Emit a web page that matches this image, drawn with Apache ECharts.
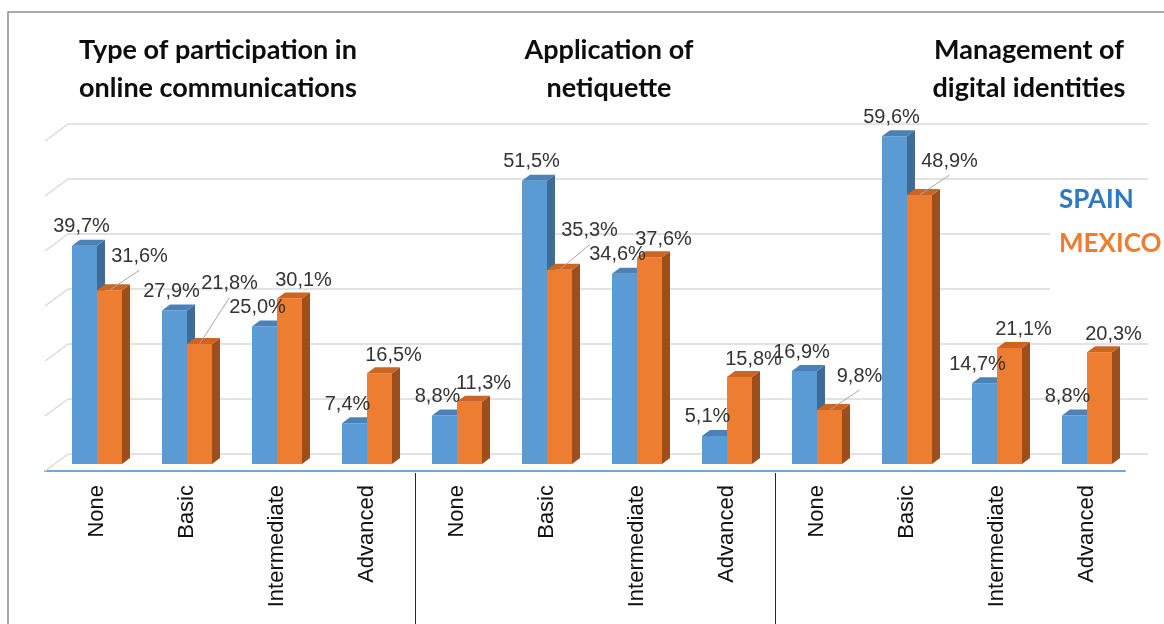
<!DOCTYPE html>
<html>
<head>
<meta charset="utf-8">
<script src="https://cdn.jsdelivr.net/npm/echarts@6/dist/echarts.min.js"></script>
<style>
  html, body { margin: 0; padding: 0; background: #fff; }
  #chart { width: 1164px; height: 624px; }
</style>
</head>
<body>
<div id="chart"></div>
<script>
// 数据
var levels = ['None', 'Basic', 'Intermediate', 'Advanced'];
var groupTitles = [
    'Type of participation in\nonline communications',
    'Application of\nnetiquette',
    'Management of\ndigital identities'
];
var spain  = [39.7, 27.9, 25.0, 7.4, 8.8, 51.5, 34.6, 5.1, 16.9, 59.6, 14.7, 8.8];
var mexico = [31.6, 21.8, 30.1, 16.5, 11.3, 35.3, 37.6, 15.8, 9.8, 48.9, 21.1, 20.3];
var gridTicks = [0, 10, 20, 30, 40, 50, 60];

// 类目：每组重复 levels
var categories = [];
groupTitles.forEach(function () {
    levels.forEach(function (l) { categories.push(l); });
});

// 样式
var BW = 25;          // 柱宽
var DX = 8, DY = 6;   // 柱子立体偏移
var WALL_DX = 23, WALL_DY = 17;
var titleCenters = [213, 604, 1024];
var colors = [
    { front: '#5B9BD5', side: '#3E6C98', top: '#4A82B8' },
    { front: '#ED7D31', side: '#9C4E1C', top: '#CC6522' }
];
var labelFont = '20px "Liberation Sans", Arial, sans-serif';

var fmt = function (v) {
    return v.toFixed(1).replace('.', ',') + '%';
};

// 蓝色柱标签位置
var blueLabelPos = function (api, idx) {
    var top = api.coord([idx, spain[idx]]);
    var dx = spain[idx] < mexico[idx] ? 7 : 3;
    return [top[0] - BW / 2 - dx, top[1] - 19];
};

// 3D 柱子
var barRender = function (side) {
    return function (params, api) {
        var idx = api.value(0), v = api.value(1);
        var base = api.coord([idx, 0]);
        var top = api.coord([idx, v]);
        var cx = base[0];
        var x0 = side === 0 ? cx - BW : cx;
        var x1 = x0 + BW;
        var c = colors[side];
        var ty = top[1], by = base[1];
        var children = [
            { type: 'rect', shape: { x: x0, y: ty, width: BW, height: by - ty }, style: { fill: c.front } },
            { type: 'polygon', shape: { points: [[x1, ty], [x1 + DX, ty - DY], [x1 + DX, by - DY], [x1, by]] }, style: { fill: c.side } },
            { type: 'polygon', shape: { points: [[x0, ty], [x1, ty], [x1 + DX, ty - DY], [x0 + DX, ty - DY]] }, style: { fill: c.top } }
        ];
        var mid = x0 + BW / 2;
        var lx, ly;
        if (side === 0) {
            var p = blueLabelPos(api, idx);
            lx = p[0]; ly = p[1];
        } else if (v < spain[idx]) {
            // 被左侧较高柱遮挡时，标签右移并加引导线
            lx = mid + 30; ly = ty - 34;
            if (idx + 1 < spain.length) {
                var nb = blueLabelPos(api, idx + 1);
                if (Math.abs(nb[0] - lx) < 56 && Math.abs(nb[1] - ly) < 22) {
                    ly = nb[1] - 24;
                }
            }
            children.push({
                type: 'line', z2: 90,
                shape: { x1: mid, y1: ty, x2: lx, y2: ly + 14 },
                style: { stroke: '#a6a6a6', lineWidth: 1 }
            });
        } else {
            lx = mid + 14; ly = ty - 18;
        }
        children.push({
            type: 'text', z2: 100,
            style: {
                x: lx, y: ly, text: fmt(v), font: labelFont, fill: '#333333',
                align: 'center', verticalAlign: 'middle'
            }
        });
        return { type: 'group', children: children };
    };
};

var my_chart = echarts.init(document.getElementById('chart'));

var hiddenY = function (gridIndex, splitShow) {
    return {
        type: 'value', gridIndex: gridIndex, min: 0, max: 60, interval: 10,
        axisLine: { show: false }, axisTick: { show: false }, axisLabel: { show: false },
        splitLine: { show: splitShow, lineStyle: { color: '#d9d9d9', width: 1.5 } }
    };
};

var option = {
    backgroundColor: '#fff',
    animation: false,
    title: groupTitles.map(function (t, i) {
        return {
            text: t,
            left: titleCenters[i],
            top: 26,
            textAlign: 'center',
            textStyle: {
                fontFamily: 'Lato', fontWeight: 'bold', fontSize: 27,
                lineHeight: 38, color: '#0d0d0d'
            }
        };
    }),
    legend: {
        orient: 'vertical',
        left: 1050,
        top: 181,
        itemWidth: 0,
        itemHeight: 0,
        itemGap: 18,
        padding: [6, 20, 40, 4],
        backgroundColor: '#fff',
        selectedMode: false,
        textStyle: { fontFamily: 'Lato', fontWeight: 'bold', fontSize: 26 },
        data: [
            { name: 'SPAIN', textStyle: { color: '#2E78C0' } },
            { name: 'MEXICO', textStyle: { color: '#ED7D31' } }
        ]
    },
    graphic: [{
        type: 'rect', silent: true,
        shape: { x: 8, y: 12, width: 1300, height: 800 },
        style: { fill: null, stroke: '#8c8c8c', lineWidth: 1.5 }
    }],
    grid: [
        { left: 45, right: 39, top: 141, bottom: 153 },  // 前沿（地板）
        { left: 52, right: 32, top: 134, bottom: 160 },  // 柱子所在平面
        { left: 68, right: 16, top: 124, bottom: 170 }   // 背墙
    ],
    xAxis: [
        {
            type: 'category', gridIndex: 0, data: categories,
            axisLine: { lineStyle: { color: '#6FA8DC', width: 2 } },
            axisTick: { show: false }, axisLabel: { show: false }
        },
        {
            type: 'category', gridIndex: 1, data: categories,
            axisLine: { show: false }, axisTick: { show: false },
            axisLabel: {
                interval: 0, rotate: 90, margin: 21,
                fontFamily: 'Liberation Sans', fontSize: 22, color: '#111',
                padding: [6, 0, 0, 0]
            }
        },
        { type: 'category', gridIndex: 2, data: categories, show: false }
    ],
    yAxis: [hiddenY(0, false), hiddenY(1, false), hiddenY(2, true)],
    series: [
        {
            // 背墙网格线左侧斜线
            type: 'custom', name: 'wall', xAxisIndex: 0, yAxisIndex: 0, silent: true,
            data: gridTicks.map(function (v) { return [0, v]; }),
            renderItem: function (params, api) {
                var y = api.coord([0, api.value(1)])[1];
                var x = params.coordSys.x;
                return {
                    type: 'line',
                    shape: { x1: x, y1: y, x2: x + WALL_DX, y2: y - WALL_DY },
                    style: { stroke: '#d9d9d9', lineWidth: 1.5 }
                };
            }
        },
        {
            // 分组分隔线
            type: 'custom', name: 'sep', xAxisIndex: 1, yAxisIndex: 1, silent: true,
            data: groupTitles.slice(1).map(function (g, i) { return [(i + 1) * levels.length, 0]; }),
            renderItem: function (params, api) {
                var i = api.value(0);
                var a = api.coord([i - 1, 0]), b = api.coord([i, 0]);
                var x = Math.round((a[0] + b[0]) / 2 + 3) + 0.5;
                return {
                    type: 'line',
                    shape: { x1: x, y1: a[1] + 9, x2: x, y2: api.getHeight() },
                    style: { stroke: '#262626', lineWidth: 1 }
                };
            }
        },
        {
            type: 'custom', name: 'SPAIN', xAxisIndex: 1, yAxisIndex: 1,
            itemStyle: { color: '#5B9BD5' },
            data: spain.map(function (v, i) { return [i, v]; }),
            renderItem: barRender(0)
        },
        {
            type: 'custom', name: 'MEXICO', xAxisIndex: 1, yAxisIndex: 1,
            itemStyle: { color: '#ED7D31' },
            data: mexico.map(function (v, i) { return [i, v]; }),
            renderItem: barRender(1)
        }
    ]
};

my_chart.setOption(option);
window.onresize = function () {
    my_chart.resize();
};
</script>
</body>
</html>
